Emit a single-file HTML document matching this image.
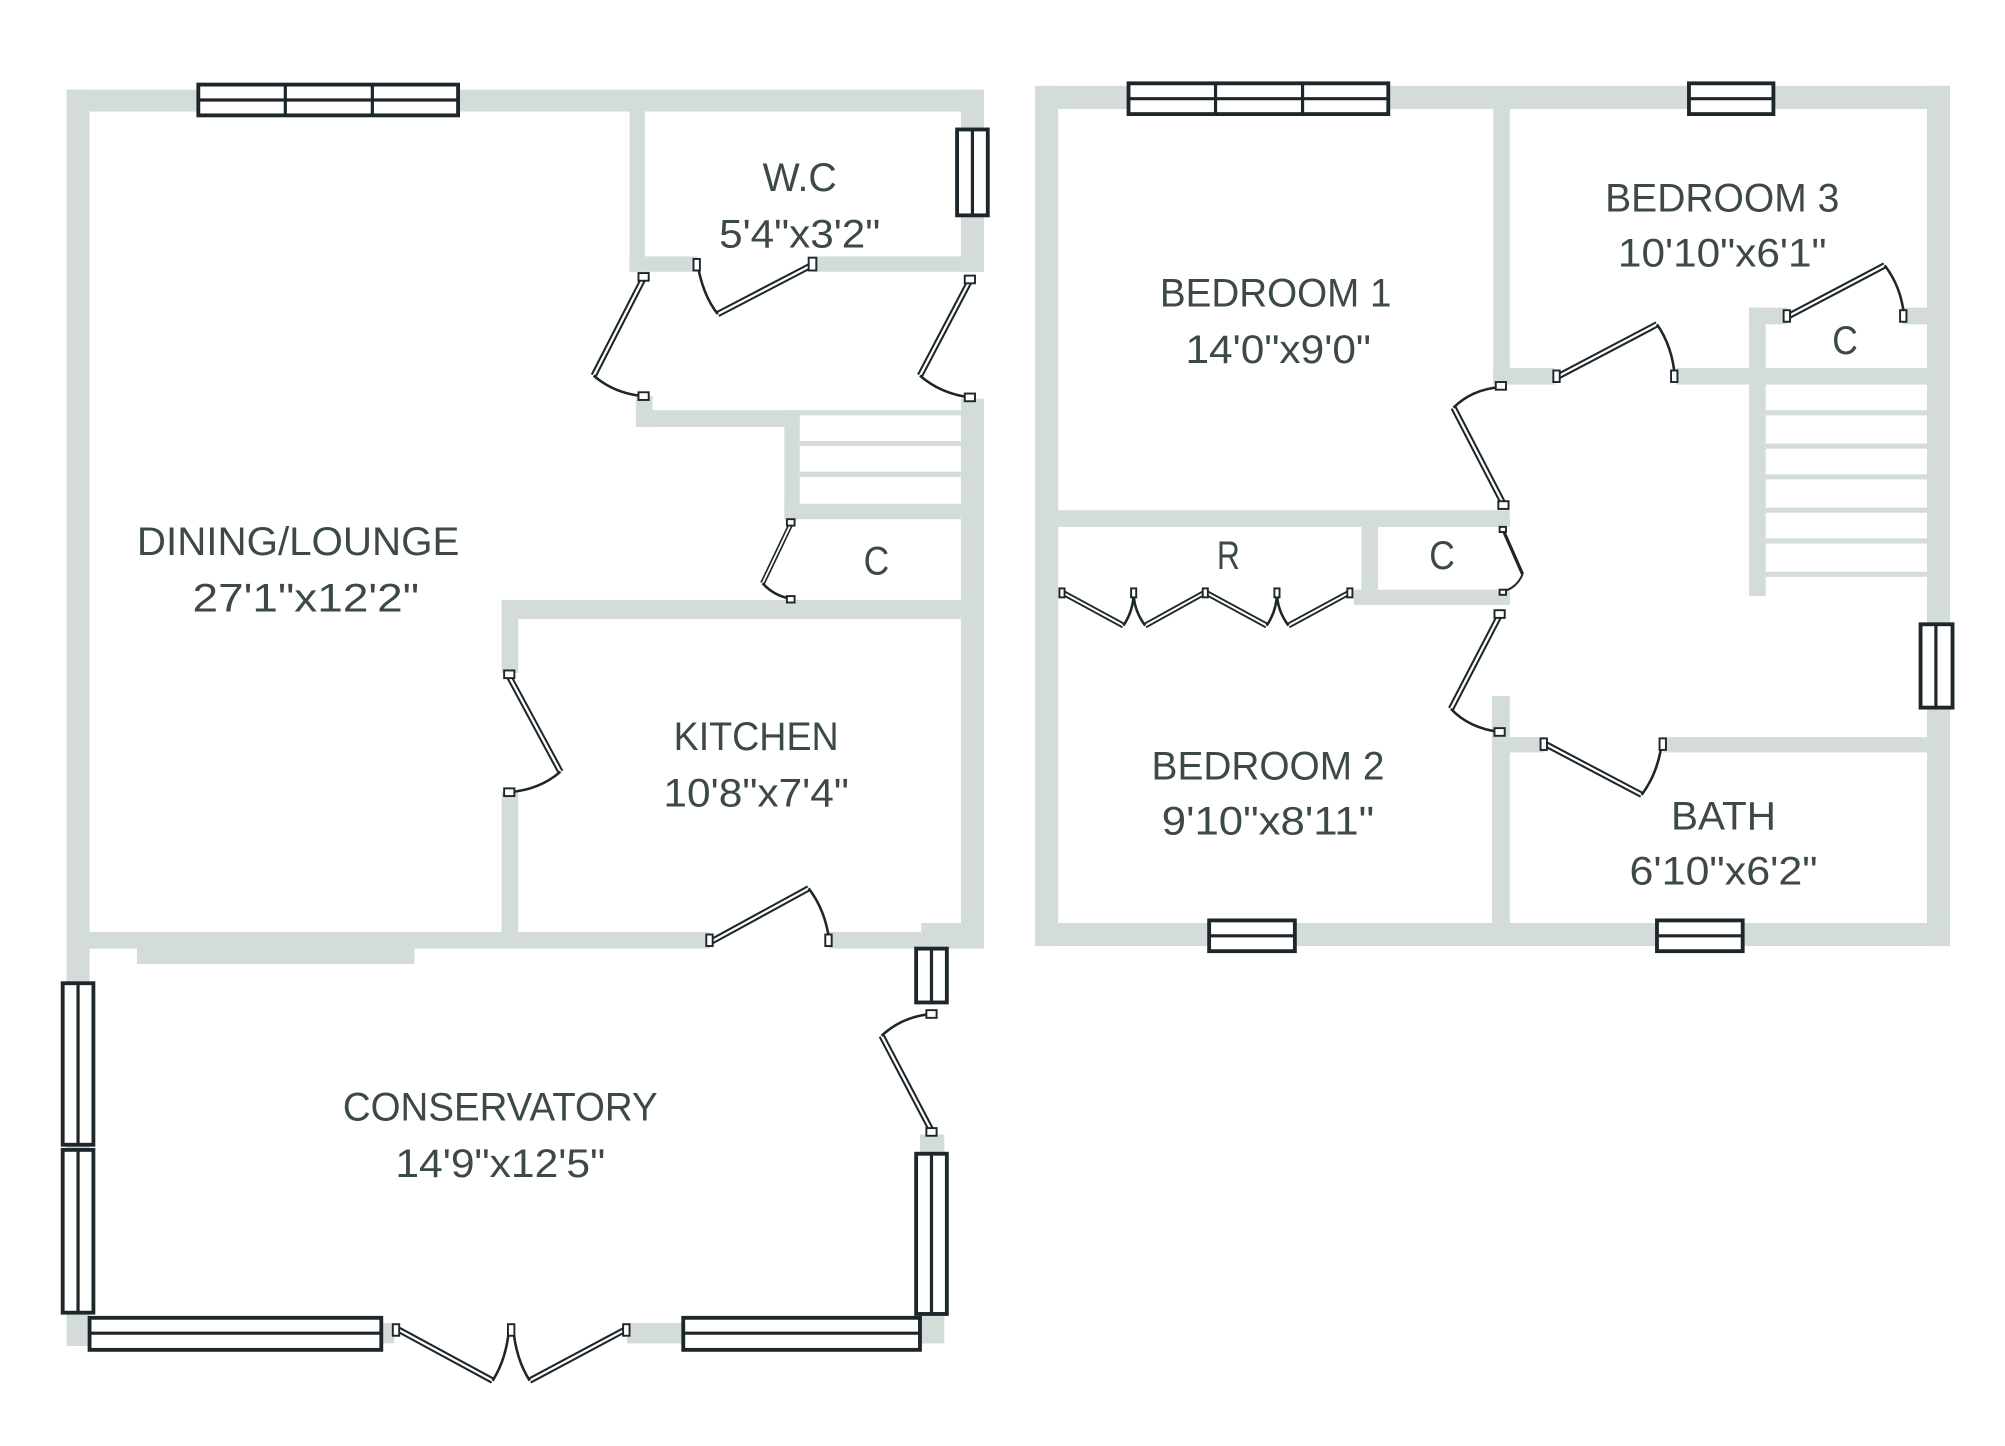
<!DOCTYPE html>
<html><head><meta charset="utf-8"><style>
html,body{margin:0;padding:0;background:#fff;}
svg{display:block;}
text{font-family:"Liberation Sans",sans-serif;font-size:31px;fill:#3d4949;text-anchor:middle;}
</style></head><body>
<svg width="2005" height="1446" viewBox="0 0 1567 1128" preserveAspectRatio="none" xmlns="http://www.w3.org/2000/svg">
<defs>
<style>
.w{fill:#d3dcd9}
.win{fill:#fff;stroke:#1c262b;stroke-width:3}
.ml{stroke:#1c262b;stroke-width:2.5}
.lf{stroke:#1c262b;stroke-width:5;stroke-linecap:butt}
.lfi{stroke:#fff;stroke-width:1.8}
.arc{fill:none;stroke:#1c262b;stroke-width:2}
.h{fill:#fff;stroke:#1c262b;stroke-width:1.5}
</style>
</defs>

<!-- LEFT PLAN WALLS -->
<rect class="w" x="52" y="70" width="717" height="17"/>
<rect class="w" x="52" y="70" width="18" height="980"/>
<rect class="w" x="751" y="70" width="18" height="142"/>
<rect class="w" x="751" y="311" width="18" height="429"/>
<rect class="w" x="492" y="87" width="12" height="125"/>
<rect class="w" x="492" y="200" width="53" height="12"/>
<rect class="w" x="636" y="200" width="133" height="12"/>
<rect class="w" x="497" y="309" width="13" height="24"/>
<rect class="w" x="497" y="320" width="128" height="13"/>
<rect class="w" x="613" y="320" width="12" height="85"/>
<rect class="w" x="625" y="320" width="126" height="4"/>
<rect class="w" x="625" y="344" width="126" height="4"/>
<rect class="w" x="625" y="368" width="126" height="4"/>
<rect class="w" x="613" y="393" width="138" height="12"/>
<rect class="w" x="392" y="468" width="359" height="15"/>
<rect class="w" x="392" y="468" width="13" height="57"/>
<rect class="w" x="392" y="618" width="13" height="110"/>
<rect class="w" x="52" y="727" width="503" height="13"/>
<rect class="w" x="648" y="727" width="72" height="13"/>
<rect class="w" x="720" y="720" width="49" height="20"/>
<rect class="w" x="107" y="738" width="217" height="14"/>
<rect class="w" x="719" y="885" width="19" height="15"/>
<rect class="w" x="719" y="1025" width="19" height="23"/>
<rect class="w" x="490" y="1032" width="45" height="16"/>
<rect class="w" x="298" y="1032" width="10" height="16"/>

<!-- LEFT PLAN WINDOWS -->
<rect class="win" x="155" y="66" width="203" height="24"/>
<line class="ml" x1="155" y1="78" x2="358" y2="78"/>
<line class="ml" x1="223" y1="66" x2="223" y2="90"/>
<line class="ml" x1="291" y1="66" x2="291" y2="90"/>
<rect class="win" x="748" y="101" width="24" height="67"/>
<line class="ml" x1="760" y1="101" x2="760" y2="168"/>
<rect class="win" x="49" y="767" width="24" height="126"/>
<line class="ml" x1="61" y1="767" x2="61" y2="893"/>
<rect class="win" x="49" y="897" width="24" height="127"/>
<line class="ml" x1="61" y1="897" x2="61" y2="1024"/>
<rect class="win" x="70" y="1028" width="228" height="25"/>
<line class="ml" x1="70" y1="1040" x2="298" y2="1040"/>
<rect class="win" x="534" y="1028" width="185" height="25"/>
<line class="ml" x1="534" y1="1040" x2="719" y2="1040"/>
<rect class="win" x="716" y="740" width="24" height="42"/>
<line class="ml" x1="728" y1="740" x2="728" y2="782"/>
<rect class="win" x="716" y="900" width="24" height="125"/>
<line class="ml" x1="728" y1="900" x2="728" y2="1025"/>

<!-- LEFT PLAN DOORS -->
<g>
<line class="lf" x1="636" y1="206" x2="561" y2="245"/><line class="lfi" x1="636" y1="206" x2="561" y2="245"/>
<path class="arc" d="M561,245 Q549,230 545,205"/>
<rect class="h" x="542" y="202" width="5" height="9"/><rect class="h" x="632" y="201" width="6" height="10"/>

<line class="lf" x1="503" y1="217" x2="464" y2="293"/><line class="lfi" x1="503" y1="217" x2="464" y2="293"/>
<path class="arc" d="M464,293 Q480,307 503,309"/>
<rect class="h" x="499" y="213" width="8" height="6"/><rect class="h" x="499" y="306" width="8" height="6"/>

<line class="lf" x1="758" y1="219" x2="719" y2="293"/><line class="lfi" x1="758" y1="219" x2="719" y2="293"/>
<path class="arc" d="M719,293 Q735,307 758,310"/>
<rect class="h" x="754" y="215" width="8" height="6"/><rect class="h" x="754" y="307" width="8" height="6"/>

<line class="lf" x1="618" y1="409" x2="596" y2="455" style="stroke-width:4"/><line class="lfi" x1="618" y1="409" x2="596" y2="455" style="stroke-width:1.4"/>
<path class="arc" d="M596,455 Q605,465 618,467"/>
<rect class="h" x="615" y="405" width="6" height="5"/><rect class="h" x="615" y="465" width="6" height="5"/>

<line class="lf" x1="398" y1="528" x2="438" y2="602"/><line class="lfi" x1="398" y1="528" x2="438" y2="602"/>
<path class="arc" d="M438,602 Q422,616 398,618"/>
<rect class="h" x="394" y="523" width="8" height="6"/><rect class="h" x="394" y="615" width="8" height="6"/>

<line class="lf" x1="555" y1="735" x2="632" y2="693"/><line class="lfi" x1="555" y1="735" x2="632" y2="693"/>
<path class="arc" d="M632,693 Q645,710 648,733"/>
<rect class="h" x="552" y="729" width="5" height="9"/><rect class="h" x="645" y="729" width="5" height="9"/>

<line class="lf" x1="728" y1="882" x2="689" y2="808"/><line class="lfi" x1="728" y1="882" x2="689" y2="808"/>
<path class="arc" d="M689,808 Q705,793 728,791"/>
<rect class="h" x="724" y="788" width="8" height="6"/><rect class="h" x="724" y="880" width="8" height="6"/>

<line class="lf" x1="311" y1="1037" x2="385" y2="1077"/><line class="lfi" x1="311" y1="1037" x2="385" y2="1077"/>
<path class="arc" d="M385,1077 Q396,1060 398,1035"/>
<line class="lf" x1="489" y1="1037" x2="414" y2="1077"/><line class="lfi" x1="489" y1="1037" x2="414" y2="1077"/>
<path class="arc" d="M414,1077 Q403,1060 401,1035"/>
<rect class="h" x="307" y="1033" width="5" height="9"/><rect class="h" x="487" y="1033" width="5" height="9"/>
<rect class="h" x="397" y="1033" width="5" height="9"/>
</g>

<!-- RIGHT PLAN WALLS -->
<rect class="w" x="809" y="67" width="715" height="18"/>
<rect class="w" x="809" y="67" width="18" height="671"/>
<rect class="w" x="1506" y="67" width="18" height="671"/>
<rect class="w" x="809" y="720" width="715" height="18"/>
<rect class="w" x="1167" y="85" width="13" height="215"/>
<rect class="w" x="1167" y="287" width="48" height="13"/>
<rect class="w" x="1310" y="287" width="196" height="13"/>
<rect class="w" x="1367" y="240" width="13" height="225"/>
<rect class="w" x="1367" y="240" width="30" height="13"/>
<rect class="w" x="1487" y="240" width="19" height="13"/>
<rect class="w" x="1380" y="320" width="126" height="4"/>
<rect class="w" x="1380" y="346" width="126" height="4"/>
<rect class="w" x="1380" y="370" width="126" height="4"/>
<rect class="w" x="1380" y="396" width="126" height="4"/>
<rect class="w" x="1380" y="420" width="126" height="4"/>
<rect class="w" x="1380" y="446" width="126" height="4"/>
<rect class="w" x="827" y="398" width="353" height="13"/>
<rect class="w" x="1064" y="411" width="13" height="59"/>
<rect class="w" x="1058" y="460" width="122" height="12"/>
<rect class="w" x="1166" y="543" width="14" height="177"/>
<rect class="w" x="1166" y="575" width="41" height="12"/>
<rect class="w" x="1300" y="575" width="206" height="12"/>

<!-- RIGHT PLAN WINDOWS -->
<rect class="win" x="882" y="65" width="203" height="24"/>
<line class="ml" x1="882" y1="77" x2="1085" y2="77"/>
<line class="ml" x1="950" y1="65" x2="950" y2="89"/>
<line class="ml" x1="1018" y1="65" x2="1018" y2="89"/>
<rect class="win" x="1320" y="65" width="66" height="24"/>
<line class="ml" x1="1320" y1="77" x2="1386" y2="77"/>
<rect class="win" x="945" y="718" width="67" height="24"/>
<line class="ml" x1="945" y1="730" x2="1012" y2="730"/>
<rect class="win" x="1295" y="718" width="67" height="24"/>
<line class="ml" x1="1295" y1="730" x2="1362" y2="730"/>
<rect class="win" x="1501" y="487" width="25" height="65"/>
<line class="ml" x1="1513" y1="487" x2="1513" y2="552"/>

<!-- RIGHT PLAN DOORS -->
<g>
<line class="lf" x1="1217" y1="294" x2="1295" y2="253"/><line class="lfi" x1="1217" y1="294" x2="1295" y2="253"/>
<path class="arc" d="M1295,253 Q1307,270 1309,294"/>
<rect class="h" x="1214" y="289" width="5" height="9"/><rect class="h" x="1306" y="289" width="5" height="9"/>

<line class="lf" x1="1397" y1="247" x2="1473" y2="207"/><line class="lfi" x1="1397" y1="247" x2="1473" y2="207"/>
<path class="arc" d="M1473,207 Q1486,224 1488,246"/>
<rect class="h" x="1394" y="242" width="5" height="9"/><rect class="h" x="1485" y="242" width="5" height="9"/>

<line class="lf" x1="1175" y1="393" x2="1136" y2="318"/><line class="lfi" x1="1175" y1="393" x2="1136" y2="318"/>
<path class="arc" d="M1136,318 Q1150,304 1172,302"/>
<rect class="h" x="1169" y="298" width="8" height="6"/><rect class="h" x="1171" y="391" width="8" height="6"/>

<line x1="1175" y1="414" x2="1190" y2="448" stroke="#1c262b" stroke-width="2.5"/>
<path class="arc" d="M1190,448 Q1185,459 1175,461" style="stroke-width:1.5"/>
<rect class="h" x="1172" y="411" width="5" height="4"/><rect class="h" x="1172" y="460" width="5" height="4"/>

<line class="lf" x1="1172" y1="480" x2="1134" y2="553"/><line class="lfi" x1="1172" y1="480" x2="1134" y2="553"/>
<path class="arc" d="M1134,553 Q1148,568 1172,571"/>
<rect class="h" x="1168" y="476" width="8" height="6"/><rect class="h" x="1168" y="568" width="8" height="6"/>

<line class="lf" x1="1207" y1="580" x2="1283" y2="620"/><line class="lfi" x1="1207" y1="580" x2="1283" y2="620"/>
<path class="arc" d="M1283,620 Q1296,603 1299,578"/>
<rect class="h" x="1204" y="576" width="5" height="9"/><rect class="h" x="1297" y="576" width="5" height="9"/>

<g stroke="#1c262b" fill="none">
<path d="M830,462 L878,488 M895,488 L942,462 L990,488 M1007,488 L1055,462" stroke-width="4.5"/>
<path d="M830,462 L878,488 M895,488 L942,462 L990,488 M1007,488 L1055,462" stroke="#fff" stroke-width="1.6"/>
<path class="arc" d="M878,488 Q886,476 886,462 Q886,476 895,488"/>
<path class="arc" d="M990,488 Q998,476 998,462 Q998,476 1007,488"/>
</g>
<rect class="h" x="828" y="459" width="4" height="7"/><rect class="h" x="884" y="459" width="4" height="7"/>
<rect class="h" x="940" y="459" width="4" height="7"/><rect class="h" x="996" y="459" width="4" height="7"/>
<rect class="h" x="1053" y="459" width="4" height="7"/>
</g>

<!-- LABELS -->
<text x="625" y="149" textLength="58" lengthAdjust="spacingAndGlyphs">W.C</text>
<text x="625" y="193" textLength="126" lengthAdjust="spacingAndGlyphs">5'4"x3'2"</text>
<text x="233" y="433" textLength="252" lengthAdjust="spacingAndGlyphs">DINING/LOUNGE</text>
<text x="239" y="477" textLength="177" lengthAdjust="spacingAndGlyphs">27'1"x12'2"</text>
<text x="685" y="448" textLength="20" lengthAdjust="spacingAndGlyphs">C</text>
<text x="591" y="585" textLength="129" lengthAdjust="spacingAndGlyphs">KITCHEN</text>
<text x="591" y="629" textLength="145" lengthAdjust="spacingAndGlyphs">10'8"x7'4"</text>
<text x="391" y="874" textLength="246" lengthAdjust="spacingAndGlyphs">CONSERVATORY</text>
<text x="391" y="918" textLength="164" lengthAdjust="spacingAndGlyphs">14'9"x12'5"</text>
<text x="997" y="239" textLength="181" lengthAdjust="spacingAndGlyphs">BEDROOM 1</text>
<text x="999" y="283" textLength="145" lengthAdjust="spacingAndGlyphs">14'0"x9'0"</text>
<text x="1346" y="165" textLength="183" lengthAdjust="spacingAndGlyphs">BEDROOM 3</text>
<text x="1346" y="208" textLength="163" lengthAdjust="spacingAndGlyphs">10'10"x6'1"</text>
<text x="1442" y="276" textLength="20" lengthAdjust="spacingAndGlyphs">C</text>
<text x="960" y="444" textLength="18" lengthAdjust="spacingAndGlyphs">R</text>
<text x="1127" y="444" textLength="20" lengthAdjust="spacingAndGlyphs">C</text>
<text x="991" y="608" textLength="182" lengthAdjust="spacingAndGlyphs">BEDROOM 2</text>
<text x="991" y="651" textLength="166" lengthAdjust="spacingAndGlyphs">9'10"x8'11"</text>
<text x="1347" y="647" textLength="82" lengthAdjust="spacingAndGlyphs">BATH</text>
<text x="1347" y="690" textLength="147" lengthAdjust="spacingAndGlyphs">6'10"x6'2"</text>
</svg>
</body></html>
